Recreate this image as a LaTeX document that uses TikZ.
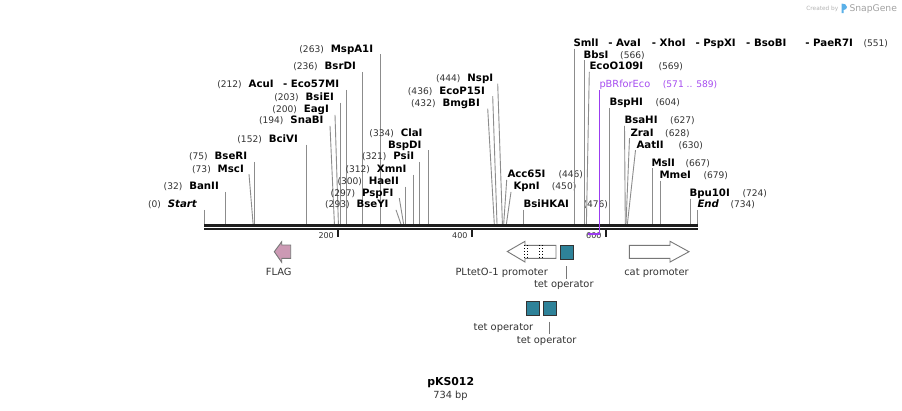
\documentclass[tikz,border=0pt]{standalone}
\usepackage{fontspec}
\setmainfont{DejaVu Sans}
\definecolor{bbcol}{HTML}{1E1E1E}
\definecolor{sitegray}{HTML}{8C8C8C}
\definecolor{numgray}{HTML}{333333}
\definecolor{flagpink}{HTML}{CC99B4}
\definecolor{featline}{HTML}{777777}
\definecolor{tealbox}{HTML}{2E8299}
\definecolor{pbrline}{HTML}{9B3CF0}
\definecolor{pbrtext}{HTML}{A64CF0}
\definecolor{logoblue}{HTML}{5AB0E8}
\definecolor{wmgray}{HTML}{B4B4B4}
\tikzset{
  nm/.style={font=\fontsize{10.2}{12}\selectfont\bfseries, inner sep=0pt, text=black},
  num/.style={font=\fontsize{9.1}{11}\selectfont, inner sep=0pt, text=numgray},
  flab/.style={font=\fontsize{9.9}{12}\selectfont, inner sep=0pt, text=numgray},
  ticklab/.style={font=\fontsize{8}{9}\selectfont, inner sep=0pt, text=numgray},
  site/.style={draw=sitegray, line width=0.9pt},
  leader/.style={draw=featline, line width=0.8pt},
  arrowfeat/.style={draw=featline, line width=0.9pt, line join=miter},
  tetbox/.style={draw=numgray, fill=tealbox, line width=0.9pt, minimum width=13.3pt, minimum height=14pt, inner sep=0pt},
  tickmark/.style={draw=bbcol, line width=2pt}
}
\newcommand\Lsite[7]{%
  \node[nm,anchor=base east] (#1) at (#4,#5) {#2};
  \node[num,anchor=base east] (#1-n) at ([xshift=-6.5pt]#1.base west) {#3};
  \coordinate (#1-t) at (#6,{#5+2.2});
  \coordinate (#1-b) at (#7,224);
  \draw[site] (#1-t) -- (#1-b);
}
\newcommand\Rsite[8]{%
  \node[nm,anchor=base west] (#1) at (#4,#5) {#2};
  \node[num,anchor=base west] (#1-n) at (#6,#5) {#3};
  \coordinate (#1-t) at (#7,{#5+2.2});
  \coordinate (#1-b) at (#8,224);
  \draw[site] (#1-t) -- (#1-b);
}
\begin{document}
\begin{tikzpicture}[x=1pt,y=-1pt]
\useasboundingbox (0,0) rectangle (902,410);
\fill[white] (0,0) rectangle (902,410);

% watermark
\node[anchor=base east, inner sep=0pt, text=wmgray, font=\fontsize{5.8}{7}\selectfont] (wm1) at (838.5,10.8) {Created by};
\fill[logoblue] (841.5,13) -- (841.5,3.5) to[out=0,in=90] (847,7) to[out=-90,in=0] (843.5,10) -- (843.5,13) -- cycle;
\node[anchor=base west, inner sep=0pt, text=wmgray!90!black, font=\fontsize{9.2}{10}\selectfont] (wm2) at (849.3,11.5) {SnapGene};

% left-anchored sites
\Lsite{start}{\itshape Start}{(0)}{197}{207.7}{204}{204}
\Lsite{banii}{BanII}{(32)}{219}{189.7}{225.5}{225.5}
\Lsite{msci}{MscI}{(73)}{244}{172}{249}{253.1}
\Lsite{bseri}{BseRI}{(75)}{247.3}{159.7}{254.4}{254.4}
\Lsite{bcivi}{BciVI}{(152)}{298}{142.5}{306.1}{306.1}
\Lsite{snabi}{SnaBI}{(194)}{323.7}{123.7}{330}{334.4}
\Lsite{eagi}{EagI}{(200)}{329}{112.7}{335}{338.4}
\Lsite{bsiei}{BsiEI}{(203)}{334}{100.4}{340.4}{340.4}
\Lsite{acui}{AcuI\hspace{9.5pt}- Eco57MI}{(212)}{339.3}{87.7}{346.5}{346.5}
\Lsite{bsrdi}{BsrDI}{(236)}{356}{69.7}{362.6}{362.6}
\Lsite{mspa1i}{MspA1I}{(263)}{373.3}{52}{380.7}{380.7}
\Lsite{bseyi}{BseYI}{(293)}{388.7}{207.7}{396}{400.9}
\Lsite{pspfi}{PspFI}{(297)}{393.7}{196}{399.3}{403.6}
\Lsite{haeii}{HaeII}{(300)}{399}{184.4}{405.6}{405.6}
\Lsite{xmni}{XmnI}{(312)}{406.7}{172.4}{413.7}{413.7}
\Lsite{psii}{PsiI}{(321)}{414.3}{159.7}{419.7}{419.7}
\Lsite{bspdi}{BspDI}{}{421.7}{148}{428.4}{428.4}
\node[nm,anchor=base east] (clai) at (422.7,136) {ClaI};
\node[num,anchor=base east] (clai-n) at ([xshift=-6.5pt]clai.base west) {(334)};
\Lsite{nspi}{NspI}{(444)}{493.3}{81.4}{497.7}{502.4}
\Lsite{ecop15i}{EcoP15I}{(436)}{485}{94}{492.7}{497.0}
\Lsite{bmgbi}{BmgBI}{(432)}{480}{106.4}{487.7}{494.3}

% right-anchored sites
\Rsite{acc65i}{Acc65I}{(446)}{507.3}{177.7}{558.3}{506.7}{503.7}
\Rsite{kpni}{KpnI}{(450)}{513.3}{189.7}{551.7}{511}{506.4}
\Rsite{bsihkai}{BsiHKAI}{(476)}{523.3}{207.4}{583.3}{523.9}{523.9}
\Rsite{smli}{SmlI\hspace{9.5pt}- AvaI\hspace{11pt}- XhoI\hspace{10pt}- PspXI\hspace{10.5pt}- BsoBI\hspace{19pt}- PaeR7I}{(551)}{573.3}{46.4}{863.3}{574.3}{574.3}
\Rsite{bbsi}{BbsI}{(566)}{583.3}{58}{620}{584.4}{584.4}
\Rsite{ecoo109i}{EcoO109I}{(569)}{589.3}{69.7}{658.3}{589.3}{586.4}
\Rsite{bsphi}{BspHI}{(604)}{609.3}{105.7}{655.3}{609.9}{609.9}
\Rsite{bsahi}{BsaHI}{(627)}{624.3}{123.7}{670}{624.5}{625.3}
\Rsite{zrai}{ZraI}{(628)}{630.3}{136}{665}{629.5}{626.0}
\Rsite{aatii}{AatII}{(630)}{636.3}{148}{678.3}{635.5}{627.4}
\Rsite{msli}{MslI}{(667)}{651.3}{166}{685.3}{652.2}{652.2}
\Rsite{mmei}{MmeI}{(679)}{659.3}{178.4}{703.3}{660.3}{660.3}
\Rsite{bpu10i}{Bpu10I}{(724)}{689.3}{196.4}{742.3}{690.5}{690.5}
\Rsite{end}{\itshape End}{(734)}{697.3}{207.7}{730.3}{697.2}{697.2}

% pBRforEco primer
\node[inner sep=0pt, anchor=base west, text=pbrtext, font=\fontsize{9.8}{12}\selectfont] (pbr) at (599.3,87.7) {pBRforEco};
\node[inner sep=0pt, anchor=base west, text=pbrtext, font=\fontsize{9.1}{11}\selectfont] (pbr-n) at (662.7,87.7) {(571 .. 589)};
\coordinate (pbr-t) at (599.5,90);
\coordinate (pbr-b) at (599.5,233.5);
\coordinate (pbr-s) at (587.5,233.5);

% tick labels and ticks
\node[ticklab, anchor=base east] (t200) at (334,238.3) {200};
\node[ticklab, anchor=base east] (t400) at (467.7,238.3) {400};
\node[ticklab, anchor=base east] (t600) at (601.7,238.3) {600};
\coordinate (k200a) at (337.7,229.5); \coordinate (k200b) at (337.7,237);
\coordinate (k400a) at (471.7,229.5); \coordinate (k400b) at (471.7,237);
\coordinate (k600a) at (605.7,229.5); \coordinate (k600b) at (605.7,237);
\draw[tickmark] (k200a) -- (k200b);
\draw[tickmark] (k400a) -- (k400b);
\draw[tickmark] (k600a) -- (k600b);

% backbone
\coordinate (seqL) at (204,225.5);
\coordinate (seqR) at (697.5,225.5);
\coordinate (seqL2) at (204,229.2);
\coordinate (seqR2) at (697.5,229.2);
\draw[bbcol, line width=3pt] (seqL) -- (seqR);
\draw[bbcol, line width=1.8pt] (seqL2) -- (seqR2);

\draw[pbrline, line width=1pt] (pbr-t) -- (pbr-b);
\draw[pbrline, line width=2pt] (pbr-s) -- (pbr-b);

% FLAG
\draw[arrowfeat, fill=flagpink] (274.3,251.7) -- (281.7,241.7) -- (281.7,245) -- (290.7,245) -- (290.7,258.3) -- (281.7,258.3) -- (281.7,262.3) -- cycle;
\node[flab, anchor=base] (flag) at (278.8,275.3) {FLAG};

% PLtetO-1 promoter
\draw[arrowfeat, fill=white] (507.3,251.5) -- (525,241.3) -- (525,245.3) -- (556,245.3) -- (556,258.3) -- (525,258.3) -- (525,262) -- cycle;
\draw[black, line width=0.8pt, dotted] (524.6,245.3) -- (524.6,258.3);
\draw[black, line width=0.8pt, dotted] (527.4,245.3) -- (527.4,258.3);
\draw[black, line width=0.8pt, dotted] (539.3,245.3) -- (539.3,258.3);
\draw[black, line width=0.8pt, dotted] (542.7,245.3) -- (542.7,258.3);
\node[flab, anchor=base] (pltet) at (501.7,275.3) {PLtetO-1 promoter};

% cat promoter
\draw[arrowfeat, fill=white] (629.3,245.3) -- (670,245.3) -- (670,241.3) -- (689,251.7) -- (670,262) -- (670,258.3) -- (629.3,258.3) -- cycle;
\node[flab, anchor=base] (cat) at (656.5,275.3) {cat promoter};

% tet operators
\node[tetbox] (tet1) at (566.7,252.3) {};
\node[flab, anchor=base] (tet1lab) at (563.8,287.3) {tet operator};
\coordinate (tet1-l) at (566.7,266);
\coordinate (tet1-e) at (566.7,278.5);
\draw[leader] (tet1-l) -- (tet1-e);

\node[tetbox] (tet2) at (533,308.2) {};
\node[tetbox] (tet3) at (550,308.2) {};
\node[flab, anchor=base] (tet2lab) at (503.5,330.2) {tet operator};
\node[flab, anchor=base] (tet3lab) at (546.7,343.5) {tet operator};
\coordinate (tet3-l) at (549.3,321.7);
\coordinate (tet3-e) at (549.3,334);
\draw[leader] (tet3-l) -- (tet3-e);

% title
\node[inner sep=0pt, anchor=base, font=\fontsize{10.9}{12}\selectfont\bfseries] (title) at (450.7,385) {pKS012};
\node[inner sep=0pt, anchor=base, text=numgray, font=\fontsize{9.8}{12}\selectfont] (size) at (450.5,398) {734 bp};
\end{tikzpicture}
\end{document}
